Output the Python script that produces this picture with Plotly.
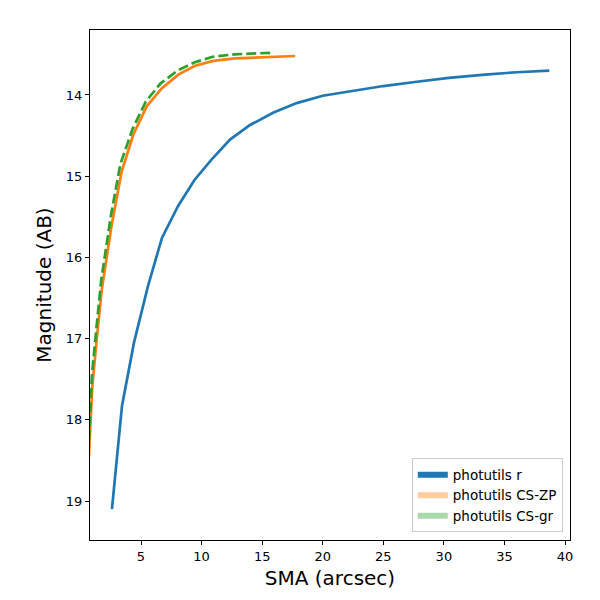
import plotly.graph_objects as go

# surface brightness profiles
sma_r = [2.6, 3.43, 4.42, 5.58, 6.73, 8.05, 9.4, 10.8, 12.35, 14.0, 15.9, 17.85,
         20.0, 22.5, 25.0, 27.6, 30.4, 33.4, 36.0, 38.7]
mag_r = [19.10, 17.83, 17.05, 16.35, 15.76, 15.37, 15.05, 14.80, 14.55, 14.37, 14.22,
         14.10, 14.01, 13.95, 13.89, 13.84, 13.79, 13.75, 13.72, 13.70]

sma_zp = [0.7, 0.98, 1.34, 1.76, 2.58, 3.41, 4.36, 5.47, 6.71, 8.08, 9.46, 10.97, 12.76, 17.71]
mag_zp = [18.45, 17.59, 17.02, 16.40, 15.60, 14.94, 14.49, 14.14, 13.92, 13.75, 13.64,
          13.58, 13.55, 13.52]

sma_gr = [0.7, 0.95, 1.3, 1.7, 2.5, 3.3, 4.3, 5.4, 6.6, 8.0, 9.4, 10.9, 12.7, 15.8]
mag_gr = [18.25, 17.45, 16.9, 16.3, 15.5, 14.85, 14.42, 14.08, 13.86, 13.70, 13.60,
          13.53, 13.50, 13.48]

labels = ["photutils r", "photutils CS-ZP", "photutils CS-gr"]
colors = ["#1f77b4", "#ff7f0e", "#2ca02c"]
fills = ["rgba(31,119,180,1)", "rgba(255,127,14,0.4)", "rgba(44,160,44,0.4)"]

fig = go.Figure()
fig.add_scatter(x=sma_r, y=mag_r, mode="lines", showlegend=False,
                line=dict(color=colors[0], width=2.7))
fig.add_scatter(x=sma_zp, y=mag_zp, mode="lines", showlegend=False,
                line=dict(color=colors[1], width=2.7))
fig.add_scatter(x=sma_gr, y=mag_gr, mode="lines", showlegend=False,
                line=dict(color=colors[2], width=2.7, dash="10px,4px"))

# patch-style legend entries
for lab, col, fc in zip(labels, colors, fills):
    fig.add_scatter(x=[None], y=[None], name=lab, mode="none", fill="toself",
                    fillcolor=fc)

axis = dict(showline=True, linecolor="black", linewidth=1, mirror=True,
            ticks="outside", ticklen=4, tickcolor="black", showgrid=False,
            zeroline=False, automargin=False, tickfont=dict(size=13, color="black"))
fig.update_xaxes(axis, range=[0.79, 40.41], tickvals=[5, 10, 15, 20, 25, 30, 35, 40],
                 title=dict(text="SMA (arcsec)", font=dict(size=20, color="black"),
                            standoff=8))
fig.update_yaxes(axis, range=[19.48, 13.2], tickvals=[14, 15, 16, 17, 18, 19],
                 title=dict(text="Magnitude (AB)", font=dict(size=20, color="black"),
                            standoff=8))
fig.update_layout(
    width=600, height=600,
    margin=dict(l=82, r=38, t=22, b=68),
    plot_bgcolor="white", paper_bgcolor="white",
    font=dict(family="DejaVu Sans", color="black"),
    legend=dict(x=0.985, y=0.015, xanchor="right", yanchor="bottom",
                bordercolor="#cccccc", borderwidth=1, bgcolor="rgba(255,255,255,0.8)",
                font=dict(size=13.5), tracegroupgap=0),
)
fig.write_html("out.html")
